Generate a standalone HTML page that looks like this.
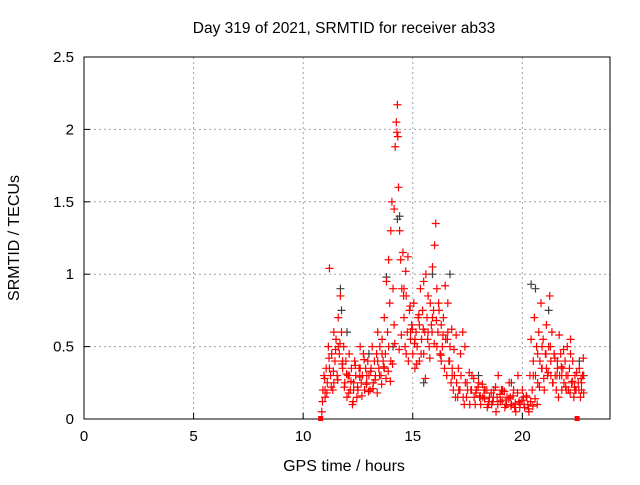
<!DOCTYPE html>
<html><head><meta charset="utf-8"><style>
body{margin:0;background:#fff;font-family:"Liberation Sans",sans-serif}
svg text{font-family:"Liberation Sans",sans-serif;font-size:15px;fill:#000}
</style></head><body>
<svg id="chart" width="640" height="480" xmlns="http://www.w3.org/2000/svg">
<rect width="640" height="480" fill="#fff"/>
<text x="344" y="33" text-anchor="middle" style="font-size:15.5px">Day 319 of 2021, SRMTID for receiver ab33</text>
<text x="344" y="471" text-anchor="middle" style="font-size:16px">GPS time / hours</text>
<text transform="translate(19,238) rotate(-90)" text-anchor="middle" style="font-size:16px">SRMTID / TECUs</text>
<g id="grid"></g>
<g id="axes"></g>
<g id="marks"></g>
</svg>
<script>
const xTicks=[0,5,10,15,20];
const yTicks=[0,0.5,1,1.5,2,2.5];
const yTickLabels=["0","0.5","1","1.5","2","2.5"];
const redT=[10.85,10.9,10.95,11.0,11.05,11.1,11.15,11.2,11.25,11.3,11.35,11.4,11.45,11.5,11.55,11.6,11.65,11.7,11.75,11.8,11.85,11.9,11.95,12.0,12.05,12.1,12.15,12.2,12.25,12.3,12.35,12.4,12.45,12.5,12.55,12.6,12.65,12.7,12.75,12.8,12.85,12.9,12.95,13.0,13.05,13.1,13.15,13.2,13.25,13.3,13.35,13.4,13.45,13.5,13.55,13.6,13.65,13.7,13.75,13.8,13.85,13.9,13.95,14.0,14.05,14.1,14.15,14.2,14.25,14.28,14.3,14.32,14.35,14.4,14.45,14.5,14.55,14.6,14.65,14.7,14.75,14.8,14.85,14.9,14.95,15.0,15.05,15.1,15.15,15.2,15.25,15.3,15.35,15.4,15.45,15.5,15.55,15.6,15.65,15.7,15.75,15.8,15.85,15.9,15.95,16.0,16.05,16.1,16.15,16.2,16.25,16.3,16.35,16.4,16.45,16.5,16.55,16.6,16.65,16.7,16.75,16.8,16.85,16.9,16.95,17.0,17.1,17.2,17.3,17.4,17.5,17.6,17.7,17.8,17.9,18.0,18.1,18.2,18.3,18.4,18.5,18.6,18.7,18.8,18.9,19.0,19.1,19.2,19.3,19.4,19.5,19.6,19.7,19.8,19.9,20.0,20.1,20.2,20.3,20.35,20.4,20.45,20.5,20.55,20.6,20.65,20.7,20.75,20.8,20.85,20.9,20.95,21.0,21.05,21.1,21.15,21.2,21.25,21.3,21.35,21.4,21.45,21.5,21.55,21.6,21.65,21.7,21.75,21.8,21.85,21.9,21.95,22.0,22.05,22.1,22.15,22.2,22.25,22.3,22.35,22.4,22.45,22.55,22.6,22.65,22.7,22.75,22.8,
11.0,11.2,11.4,11.6,11.8,12.1,12.3,12.6,12.9,13.2,13.4,13.6,13.7,13.9,14.0,14.15,14.6,14.7,14.9,15.1,15.3,15.5,15.7,15.9,16.1,16.3,16.6,16.8,17.05,17.15,17.35,17.45,17.65,17.85,18.05,18.25,18.45,18.65,18.85,19.05,19.25,19.45,19.65,19.85,20.05,20.25,20.5,20.7,20.9,21.1,21.3,21.6,21.8,22.0,22.2,22.4,22.7,
10.88,10.98,11.08,11.18,11.28,11.38,11.48,11.58,11.68,11.78,11.88,11.98,12.08,12.18,12.28,12.38,12.48,12.58,12.68,12.78,12.88,12.98,13.08,13.18,13.28,13.38,13.48,13.58,13.68,13.78,13.88,13.98,14.08,14.18,14.38,14.48,14.58,14.68,14.78,14.88,14.98,15.08,15.18,15.28,15.38,15.48,15.58,15.68,15.78,15.88,15.98,16.08,16.18,16.28,16.38,16.48,16.58,16.68,16.78,16.88,16.98,17.08,17.18,17.28,17.38,17.48,17.58,17.68,17.78,17.88,17.98,18.08,18.18,18.28,18.38,18.48,18.58,18.68,18.78,18.88,18.98,19.08,19.18,19.28,19.38,19.48,19.58,19.68,19.78,19.88,19.98,20.08,20.18,20.28,20.38,20.48,20.58,20.68,20.78,20.88,20.98,21.08,21.18,21.28,21.38,21.48,21.58,21.68,21.78,21.88,21.98,22.08,22.18,22.28,22.38,22.48,22.58,22.68,22.78];
const redV=[0.05,0.2,0.3,0.15,0.35,0.25,0.5,1.04,0.3,0.45,0.2,0.6,0.4,0.55,0.3,0.7,0.45,0.85,0.6,0.35,0.5,0.25,0.4,0.15,0.3,0.45,0.2,0.35,0.1,0.25,0.4,0.3,0.15,0.2,0.35,0.5,0.25,0.3,0.45,0.2,0.35,0.25,0.4,0.3,0.2,0.35,0.5,0.25,0.4,0.3,0.45,0.6,0.35,0.5,0.3,0.55,0.4,0.7,0.45,0.95,0.6,1.1,0.8,1.3,1.5,0.9,1.45,1.88,2.05,1.98,2.17,1.95,1.6,1.3,1.1,0.9,1.15,0.7,0.5,0.85,0.6,0.4,0.75,0.55,0.65,0.45,0.8,0.35,0.6,0.5,0.7,0.4,0.9,0.55,0.75,0.95,0.6,1.0,0.7,0.85,0.5,0.8,0.65,1.05,0.75,1.2,1.35,0.9,0.6,0.75,0.45,0.65,0.5,0.7,0.35,0.55,0.3,0.8,0.4,0.5,0.25,0.35,0.2,0.3,0.15,0.25,0.2,0.3,0.15,0.25,0.2,0.1,0.3,0.15,0.2,0.25,0.1,0.15,0.2,0.08,0.15,0.1,0.2,0.05,0.3,0.12,0.2,0.08,0.15,0.25,0.1,0.2,0.05,0.3,0.1,0.2,0.08,0.15,0.05,0.3,0.55,0.2,0.4,0.7,0.3,0.5,0.25,0.6,0.4,0.8,0.35,0.55,0.2,0.45,0.65,0.3,0.5,0.85,0.4,0.6,0.25,0.45,0.3,0.2,0.35,0.15,0.3,0.45,0.2,0.35,0.25,0.4,0.3,0.5,0.2,0.35,0.55,0.25,0.4,0.15,0.3,0.2,0.25,0.35,0.15,0.2,0.3,0.18,
0.2,0.35,0.25,0.5,0.4,0.3,0.2,0.35,0.3,0.25,0.4,0.45,0.35,0.5,0.4,0.65,0.9,0.45,0.6,0.55,0.65,0.45,0.6,0.7,0.5,0.4,0.6,0.3,0.15,0.2,0.1,0.15,0.2,0.1,0.15,0.2,0.1,0.12,0.15,0.2,0.1,0.15,0.08,0.12,0.15,0.1,0.3,0.45,0.5,0.35,0.3,0.4,0.3,0.2,0.45,0.2,0.25,
0.12,0.28,0.18,0.42,0.22,0.33,0.48,0.27,0.52,0.38,0.22,0.31,0.18,0.26,0.12,0.37,0.22,0.29,0.16,0.41,0.24,0.19,0.33,0.21,0.27,0.18,0.3,0.24,0.36,0.28,0.33,0.26,0.38,0.52,0.48,0.58,0.85,1.02,1.12,0.78,0.62,0.52,0.38,0.72,0.45,0.62,0.28,0.55,0.42,0.6,0.52,0.68,0.8,0.44,0.58,0.92,0.55,0.4,0.62,0.48,0.58,0.35,0.45,0.6,0.5,0.25,0.32,0.2,0.28,0.18,0.22,0.16,0.24,0.14,0.2,0.12,0.18,0.15,0.22,0.1,0.17,0.13,0.19,0.1,0.14,0.09,0.16,0.11,0.18,0.08,0.13,0.1,0.16,0.07,0.12,0.09,0.14,0.1,0.22,0.35,0.28,0.45,0.32,0.5,0.25,0.42,0.3,0.58,0.36,0.48,0.22,0.3,0.18,0.26,0.22,0.32,0.2,0.28,0.42,0.24,0.36,0.22,0.3,0.2,0.26];
const blackT=[11.7,11.75,12.0,13.0,13.8,14.1,14.3,14.4,15.5,15.9,16.7,18.0,19.5,20.4,20.6,21.2,22.6,22.8];
const blackV=[0.9,0.75,0.6,0.45,0.98,0.5,1.38,1.4,0.25,1.0,1.0,0.3,0.25,0.93,0.9,0.75,0.4,0.3];
const zeroT=[10.8,22.5];
const X0=84,X1=610,Y0=419,Y1=57,XMAX=24,YMAX=2.5;
const sx=t=>X0+t/XMAX*(X1-X0);
const sy=v=>Y0-v/YMAX*(Y0-Y1);
const NS="http://www.w3.org/2000/svg";
function mk(tag,attrs,parent){const e=document.createElementNS(NS,tag);for(const k in attrs)e.setAttribute(k,attrs[k]);parent.appendChild(e);return e;}
const grid=document.getElementById('grid'),axes=document.getElementById('axes'),marks=document.getElementById('marks');
xTicks.forEach(t=>{
 if(t>0){const g=mk('line',{x1:sx(t),x2:sx(t),y1:Y0,y2:Y1,stroke:'#a0a0a0','stroke-dasharray':'2,3'},grid);
 
 }
 const tk=mk('line',{x1:sx(t),x2:sx(t),y1:Y0,y2:Y0-6,stroke:'#000'},axes);
 
 
 const l=mk('text',{x:sx(t),y:Y0+22,'text-anchor':'middle'},axes);l.textContent=t;
 
 
});
yTicks.forEach((v,i)=>{
 if(v>0&&v<YMAX){const g=mk('line',{x1:X0,x2:X1,y1:sy(v),y2:sy(v),stroke:'#a0a0a0','stroke-dasharray':'2,3'},grid);
 
 }
 const tk=mk('line',{x1:X0,x2:X0+6,y1:sy(v),y2:sy(v),stroke:'#000'},axes);
 
 
 const l=mk('text',{x:X0-10,y:sy(v)+5,'text-anchor':'end'},axes);l.textContent=yTickLabels[i];
 
 
});
const frame=mk('rect',{x:X0,y:Y1,width:X1-X0,height:Y0-Y1,fill:'none',stroke:'#000'},axes);


function plus(T,V,color,name){
 let d='';for(let i=0;i<T.length;i++){const x=sx(T[i]),y=sy(V[i]);d+=`M${x-4},${y}h8M${x},${y-4}v8`;}
 const p=mk('path',{d:d,stroke:color,'stroke-width':1.2,fill:'none'},marks);
 
 
}
plus(blackT,blackV,'#404040','black-series-points');
plus(redT,redV,'#ff0000','red-series-points');
zeroT.forEach(t=>{const r=mk('rect',{x:sx(t)-2.5,y:Y0-3,width:5,height:5,fill:'#ff0000'},marks);
 
 });
</script>
</body></html>
